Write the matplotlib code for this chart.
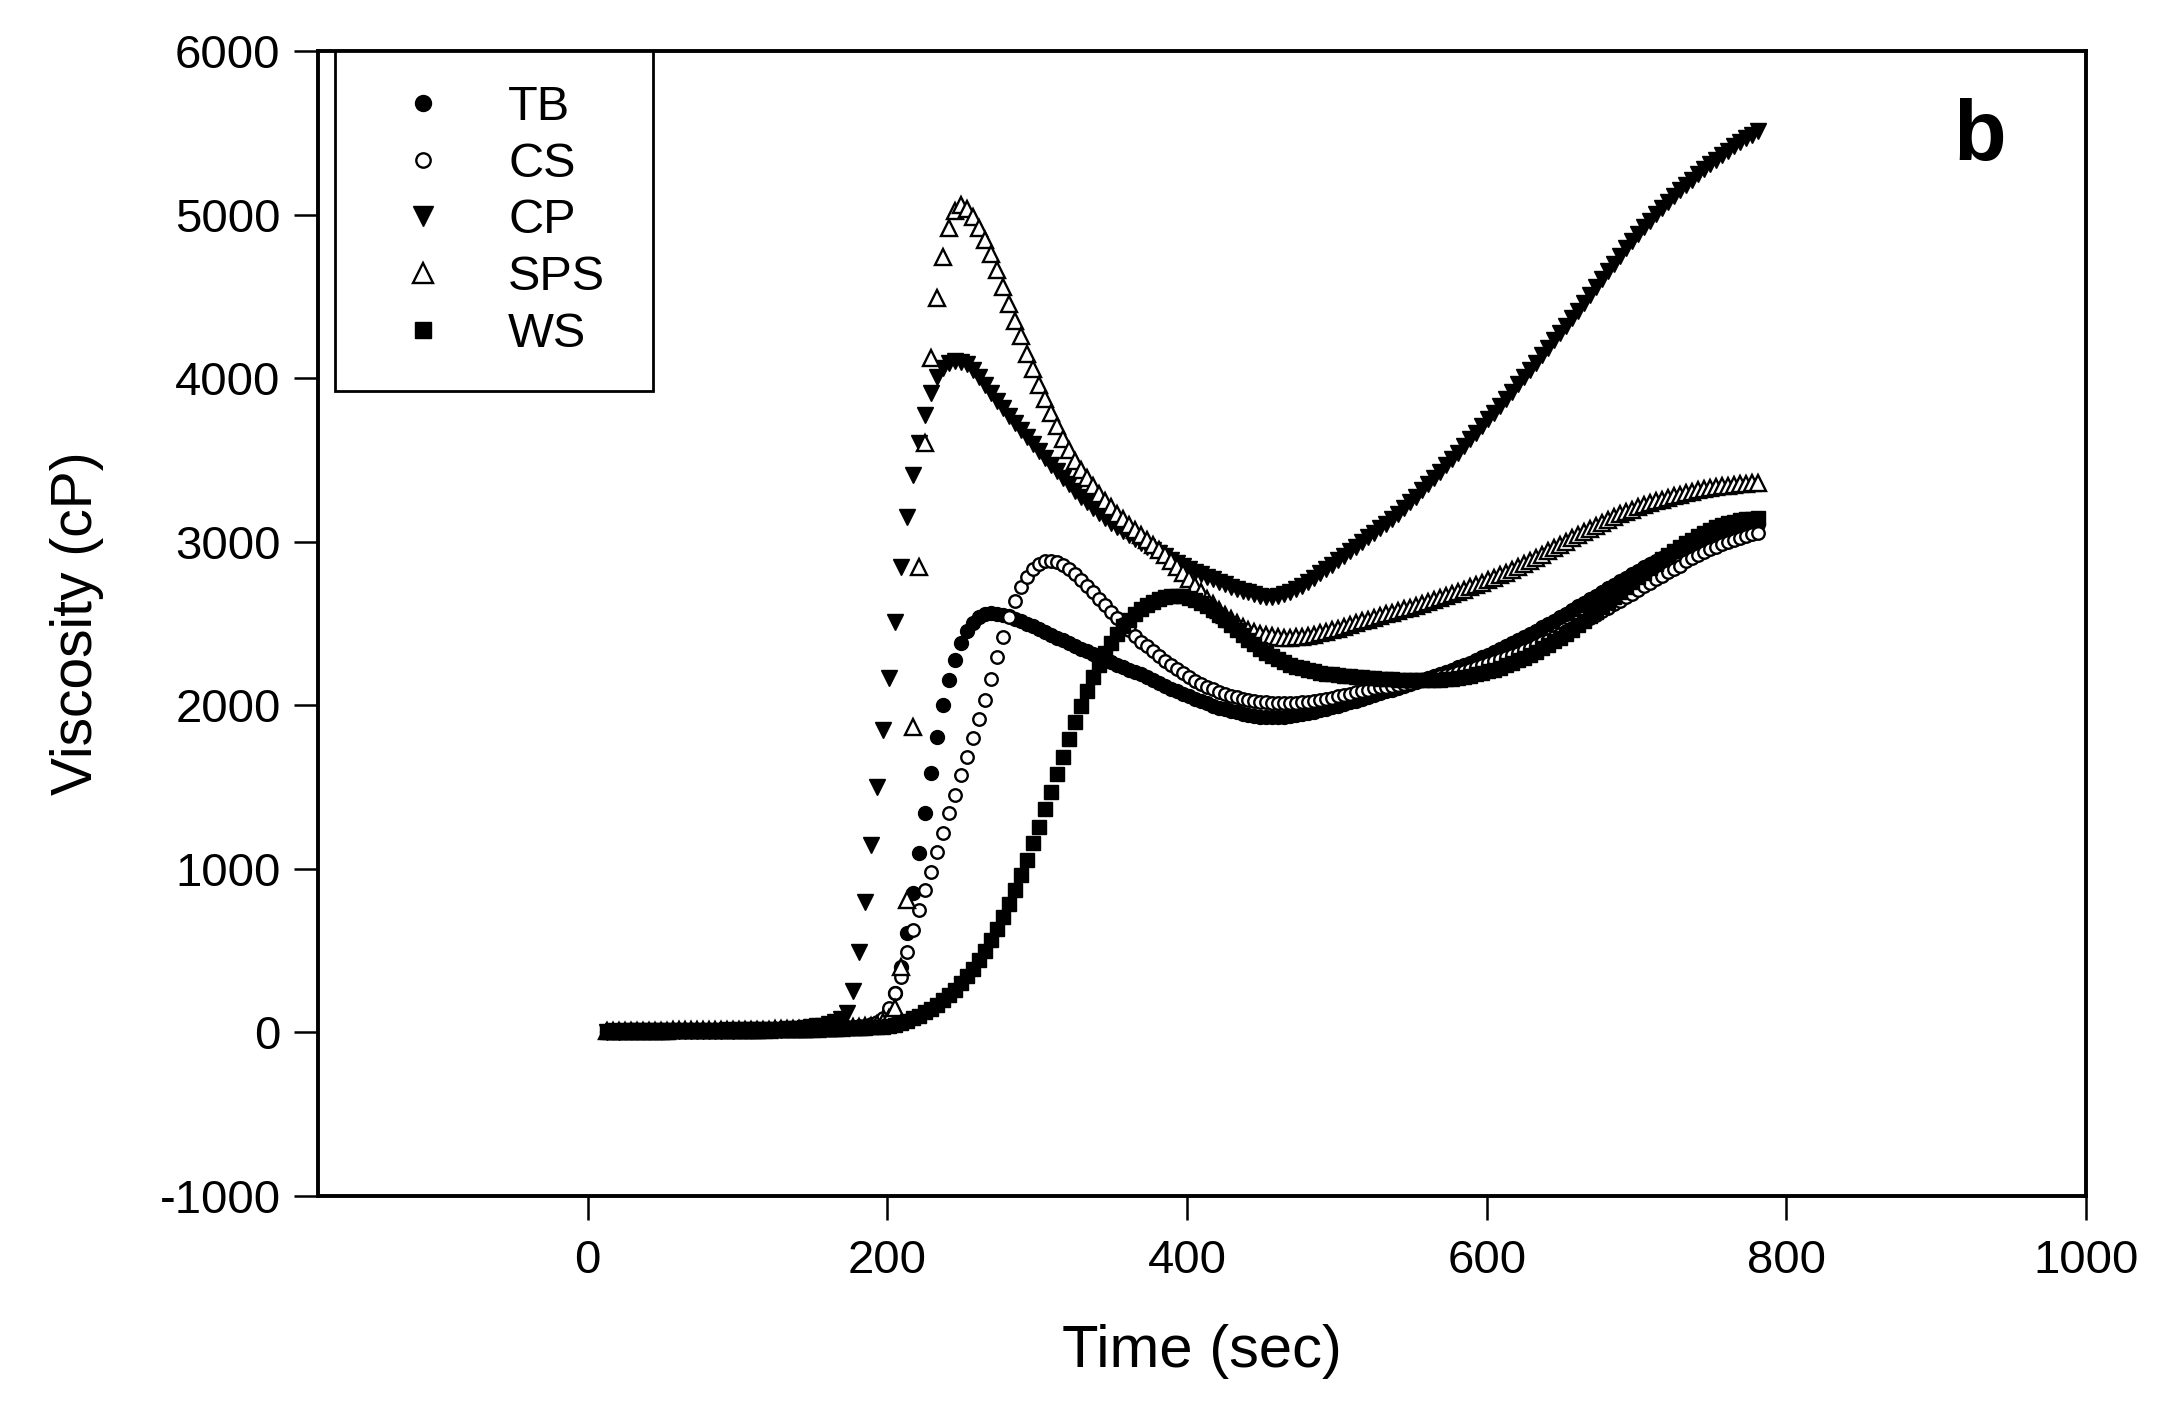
import numpy as np
import matplotlib.pyplot as plt

plt.rcParams['font.family'] = ['Liberation Sans', 'DejaVu Sans']
plt.rcParams['axes.unicode_minus'] = False

# RVA readings, one every 4 s from 13 s to 781 s
time = np.arange(13, 782, 4)

tb = [3, 3, 4, 4, 4, 5, 5, 5, 6, 6,
      6, 7, 7, 7, 8, 8, 8, 9, 9, 9,
      10, 10, 10, 11, 11, 12, 12, 13, 13, 14,
      14, 15, 16, 16, 17, 18, 19, 20, 22, 24,
      26, 29, 33, 38, 45, 55, 75, 130, 240, 400,
      607, 850, 1096, 1340, 1583, 1808, 2002, 2154, 2277, 2380,
      2455, 2505, 2537, 2555, 2562, 2560, 2553, 2543, 2530, 2515,
      2499, 2482, 2465, 2448, 2431, 2414, 2397, 2380, 2363, 2346,
      2330, 2313, 2297, 2281, 2265, 2249, 2233, 2218, 2203, 2188,
      2170, 2153, 2136, 2119, 2102, 2086, 2070, 2055, 2040, 2025,
      2011, 1998, 1986, 1975, 1965, 1956, 1948, 1941, 1935, 1931,
      1929, 1928, 1929, 1931, 1935, 1940, 1946, 1953, 1961, 1970,
      1979, 1988, 1997, 2007, 2017, 2028, 2039, 2050, 2061, 2073,
      2085, 2096, 2107, 2118, 2130, 2142, 2154, 2166, 2179, 2192,
      2205, 2218, 2232, 2246, 2261, 2276, 2292, 2308, 2325, 2342,
      2360, 2378, 2397, 2416, 2436, 2456, 2476, 2497, 2518, 2539,
      2560, 2582, 2604, 2626, 2648, 2670, 2692, 2714, 2736, 2758,
      2780, 2801, 2822, 2843, 2863, 2883, 2902, 2921, 2939, 2957,
      2974, 2990, 3006, 3021, 3035, 3048, 3060, 3071, 3081, 3090,
      3098, 3105, 3111]

cs = [4, 4, 4, 5, 5, 5, 6, 6, 6, 7,
      7, 7, 8, 8, 8, 9, 9, 9, 10, 10,
      11, 11, 12, 12, 13, 13, 14, 14, 15, 15,
      16, 17, 18, 19, 20, 21, 22, 24, 26, 28,
      30, 33, 37, 42, 50, 62, 85, 150, 239, 341,
      493, 625, 748, 870, 980, 1105, 1217, 1339, 1451, 1573,
      1686, 1802, 1914, 2032, 2159, 2293, 2419, 2541, 2640, 2720,
      2785, 2830, 2862, 2880, 2884, 2876, 2858, 2832, 2800, 2765,
      2728, 2690, 2651, 2612, 2573, 2535, 2497, 2460, 2424, 2389,
      2360, 2330, 2300, 2272, 2245, 2219, 2195, 2172, 2151, 2132,
      2114, 2098, 2083, 2070, 2058, 2048, 2039, 2032, 2026, 2021,
      2017, 2014, 2012, 2012, 2013, 2015, 2018, 2022, 2027, 2033,
      2040, 2047, 2055, 2063, 2071, 2079, 2087, 2095, 2103, 2111,
      2110, 2117, 2124, 2131, 2138, 2145, 2152, 2160, 2168, 2176,
      2184, 2193, 2202, 2212, 2222, 2233, 2244, 2256, 2268, 2281,
      2294, 2308, 2322, 2337, 2352, 2368, 2384, 2401, 2418, 2436,
      2454, 2473, 2492, 2512, 2532, 2553, 2574, 2595, 2617, 2639,
      2661, 2683, 2705, 2727, 2749, 2771, 2792, 2813, 2834, 2854,
      2880, 2900, 2918, 2936, 2953, 2969, 2984, 2998, 3011, 3023,
      3034, 3044, 3053]

cp = [5, 6, 5, 6, 7, 6, 7, 8, 7, 8,
      8, 9, 8, 9, 10, 9, 10, 11, 10, 11,
      12, 11, 12, 13, 12, 13, 14, 15, 16, 17,
      18, 20, 22, 25, 30, 36, 42, 50, 62, 80,
      120, 255, 492, 798, 1146, 1501, 1849, 2167, 2509, 2845,
      3153, 3408, 3603, 3772, 3907, 4005, 4060, 4095, 4105, 4100,
      4085, 4050, 4005, 3960, 3910, 3860, 3815, 3770, 3725, 3680,
      3640, 3600, 3555, 3510, 3470, 3430, 3390, 3350, 3310, 3275,
      3240, 3205, 3175, 3145, 3115, 3090, 3065, 3040, 3015, 2990,
      2970, 2950, 2930, 2910, 2890, 2870, 2850, 2830, 2815, 2800,
      2785, 2770, 2755, 2740, 2725, 2710, 2700, 2690, 2680, 2670,
      2662, 2664, 2670, 2680, 2694, 2711, 2731, 2754, 2780, 2807,
      2835, 2860, 2887, 2914, 2942, 2970, 2998, 3026, 3054, 3082,
      3110, 3140, 3172, 3205, 3240, 3276, 3313, 3350, 3388, 3427,
      3466, 3505, 3545, 3585, 3625, 3665, 3706, 3747, 3789, 3831,
      3874, 3918, 3962, 4006, 4050, 4095, 4140, 4186, 4232, 4278,
      4320, 4365, 4412, 4460, 4508, 4556, 4604, 4652, 4700, 4748,
      4794, 4838, 4881, 4922, 4962, 5001, 5039, 5076, 5112, 5147,
      5181, 5214, 5246, 5277, 5307, 5336, 5364, 5391, 5417, 5442,
      5466, 5489, 5511]

sps = [8, 8, 9, 9, 9, 10, 10, 10, 11, 11,
       11, 12, 12, 12, 13, 13, 13, 14, 14, 14,
       15, 15, 15, 16, 16, 16, 17, 17, 18, 18,
       19, 19, 20, 21, 22, 23, 24, 25, 26, 28,
       30, 32, 34, 37, 42, 50, 65, 90, 150, 400,
       809, 1869, 2848, 3606, 4124, 4490, 4743, 4919, 5020, 5059,
       5035, 4985, 4920, 4845, 4760, 4660, 4555, 4450, 4350, 4255,
       4150, 4055, 3960, 3870, 3785, 3705, 3630, 3560, 3495, 3440,
       3390, 3340, 3293, 3250, 3210, 3172, 3136, 3102, 3070, 3040,
       3010, 2980, 2950, 2918, 2884, 2848, 2810, 2770, 2730, 2690,
       2652, 2616, 2583, 2553, 2526, 2502, 2481, 2463, 2448, 2437,
       2428, 2421, 2416, 2414, 2414, 2416, 2420, 2425, 2432, 2440,
       2449, 2458, 2468, 2479, 2490, 2501, 2512, 2524, 2536, 2548,
       2555, 2565, 2575, 2586, 2597, 2608, 2619, 2631, 2643, 2655,
       2667, 2680, 2693, 2706, 2720, 2734, 2748, 2763, 2778, 2794,
       2810, 2827, 2845, 2863, 2882, 2901, 2921, 2941, 2961, 2981,
       3000, 3020, 3040, 3060, 3080, 3098, 3116, 3134, 3151, 3167,
       3182, 3196, 3209, 3222, 3234, 3246, 3257, 3268, 3278, 3288,
       3297, 3305, 3313, 3320, 3327, 3333, 3338, 3343, 3347, 3350,
       3353, 3356, 3358]

ws = [2, 2, 3, 3, 3, 4, 4, 4, 5, 5,
      5, 6, 6, 6, 7, 7, 7, 8, 8, 8,
      9, 9, 10, 10, 11, 11, 12, 12, 13, 13,
      14, 15, 16, 17, 18, 19, 20, 21, 23, 25,
      26, 27, 28, 29, 31, 33, 35, 40, 48, 58,
      70, 85, 102, 122, 145, 170, 198, 228, 262, 300,
      342, 390, 442, 500, 563, 632, 706, 785, 870, 960,
      1055, 1155, 1258, 1363, 1470, 1578, 1686, 1792, 1895, 1993,
      2085, 2170, 2248, 2318, 2380, 2435, 2483, 2524, 2559, 2588,
      2612, 2632, 2648, 2660, 2667, 2669, 2666, 2658, 2645, 2627,
      2605, 2580, 2552, 2522, 2491, 2460, 2430, 2400, 2372, 2346,
      2322, 2300, 2281, 2264, 2249, 2236, 2225, 2215, 2207, 2200,
      2194, 2189, 2185, 2181, 2177, 2174, 2171, 2168, 2165, 2162,
      2160, 2158, 2156, 2154, 2153, 2152, 2152, 2152, 2153, 2155,
      2158, 2162, 2167, 2173, 2180, 2188, 2197, 2207, 2218, 2230,
      2243, 2258, 2274, 2291, 2309, 2328, 2348, 2369, 2391, 2414,
      2438, 2463, 2489, 2516, 2544, 2573, 2602, 2632, 2662, 2692,
      2722, 2752, 2781, 2810, 2838, 2866, 2893, 2919, 2944, 2968,
      2991, 3013, 3034, 3053, 3071, 3087, 3101, 3113, 3123, 3131,
      3137, 3141, 3144]

fig = plt.figure(figsize=(21.68, 14.11), dpi=100)
ax = fig.add_axes([0.1467, 0.1524, 0.8155, 0.8115])

ax.plot(time, tb, 'o', ms=10, color='black', linestyle='none', label='TB')
ax.plot(time, cs, 'o', ms=9, mfc='white', mec='black', mew=1.7, linestyle='none', label='CS')
ax.plot(time, cp, 'v', ms=12, color='black', linestyle='none', label='CP')
ax.plot(time, sps, '^', ms=12, mfc='white', mec='black', mew=1.7, linestyle='none', label='SPS')
ax.plot(time, ws, 's', ms=10, color='black', linestyle='none', label='WS')

ax.set_xlim(-180, 1000)
ax.set_ylim(-1000, 6000)
ax.set_xticks(range(0, 1001, 200))
ax.set_yticks(range(-1000, 6001, 1000))
ax.tick_params(direction='out', length=17, width=1.8, labelsize=34)
ax.tick_params(axis='x', pad=14)
ax.tick_params(axis='y', pad=10)
for s in ax.spines.values():
    s.set_linewidth(2.8)

ax.set_xlabel('Time (sec)', fontsize=43)
ax.set_ylabel('Viscosity (cP)', fontsize=41)
ax.xaxis.set_label_coords(0.5, -0.112)
ax.yaxis.set_label_coords(-0.121, 0.5)

ax.text(0.94, 0.905, 'b', transform=ax.transAxes, fontsize=62, fontweight='bold',
        ha='center', va='baseline')

leg = ax.legend(loc='upper left', bbox_to_anchor=(0.0096, 0.70, 0.18, 0.30),
                mode='expand', borderaxespad=0,
                fontsize=35, frameon=True, fancybox=False, framealpha=1,
                edgecolor='black', borderpad=0.7, handlelength=2.22,
                handletextpad=0.64, labelspacing=0.24, markerscale=1.15)
leg.get_frame().set_linewidth(2.0)

fig.savefig('out.png', dpi=100)
